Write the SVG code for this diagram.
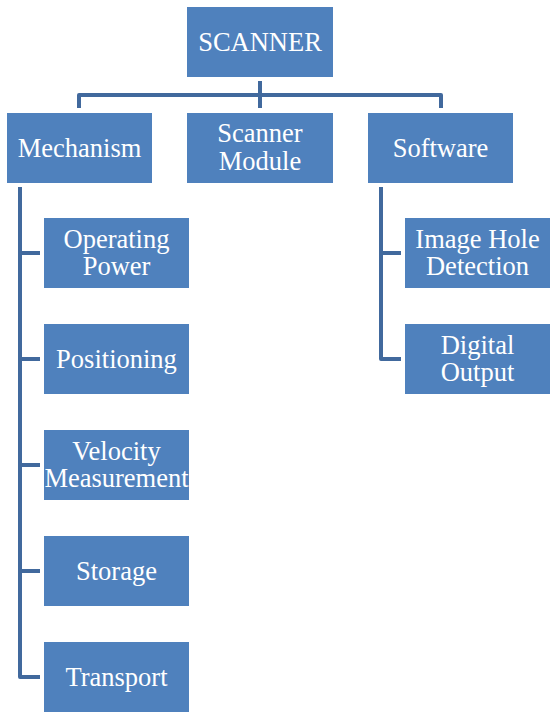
<svg xmlns="http://www.w3.org/2000/svg" width="558" height="714" viewBox="0 0 558 714">
<style>
.box{fill:#4f81bd;}
.t{font-size:26.5px;fill:#ffffff;text-anchor:middle;}
.c{fill:none;stroke:#41699d;stroke-width:4;stroke-linejoin:round;}
</style>
<rect width="558" height="714" fill="#ffffff"/>
<g id="connectors">
<path class="c" d="M260,81 V108"/>
<path class="c" d="M79,108 V95 H441 V108"/>
<path class="c" d="M20,187 V677 H40"/>
<path class="c" d="M20,253 H40 M20,359 H40 M20,465 H40 M20,571 H40"/>
<path class="c" d="M381,187 V359 H401"/>
<path class="c" d="M381,253 H401"/>
</g>
<g font-family="Liberation Serif, DejaVu Serif, serif">
<g id="scanner"><rect class="box" x="187" y="7" width="146" height="70"/><text class="t" x="260" y="50.5">SCANNER</text></g>
<g id="mechanism"><rect class="box" x="7" y="113" width="145" height="70"/><text class="t" x="79.5" y="156.5">Mechanism</text></g>
<g id="scanner-module"><rect class="box" x="187" y="113" width="146" height="70"/><text class="t" x="260" y="142">Scanner</text><text class="t" x="260" y="169.5">Module</text></g>
<g id="software"><rect class="box" x="368" y="113" width="145" height="70"/><text class="t" x="440.5" y="156.5">Software</text></g>
<g id="operating-power"><rect class="box" x="44" y="218" width="145" height="70"/><text class="t" x="116.5" y="247.5">Operating</text><text class="t" x="116.5" y="275">Power</text></g>
<g id="positioning"><rect class="box" x="44" y="324" width="145" height="70"/><text class="t" x="116.5" y="367.5">Positioning</text></g>
<g id="velocity-measurement"><rect class="box" x="44" y="430" width="145" height="70"/><text class="t" x="116.5" y="459.5">Velocity</text><text class="t" x="116.5" y="487">Measurement</text></g>
<g id="storage"><rect class="box" x="44" y="536" width="145" height="70"/><text class="t" x="116.5" y="579.5">Storage</text></g>
<g id="transport"><rect class="box" x="44" y="642" width="145" height="70"/><text class="t" x="116.5" y="685.5">Transport</text></g>
<g id="image-hole-detection"><rect class="box" x="405" y="218" width="145" height="70"/><text class="t" x="477.5" y="247.5">Image Hole</text><text class="t" x="477.5" y="275">Detection</text></g>
<g id="digital-output"><rect class="box" x="405" y="324" width="145" height="70"/><text class="t" x="477.5" y="353.5">Digital</text><text class="t" x="477.5" y="381">Output</text></g>
</g>
</svg>
